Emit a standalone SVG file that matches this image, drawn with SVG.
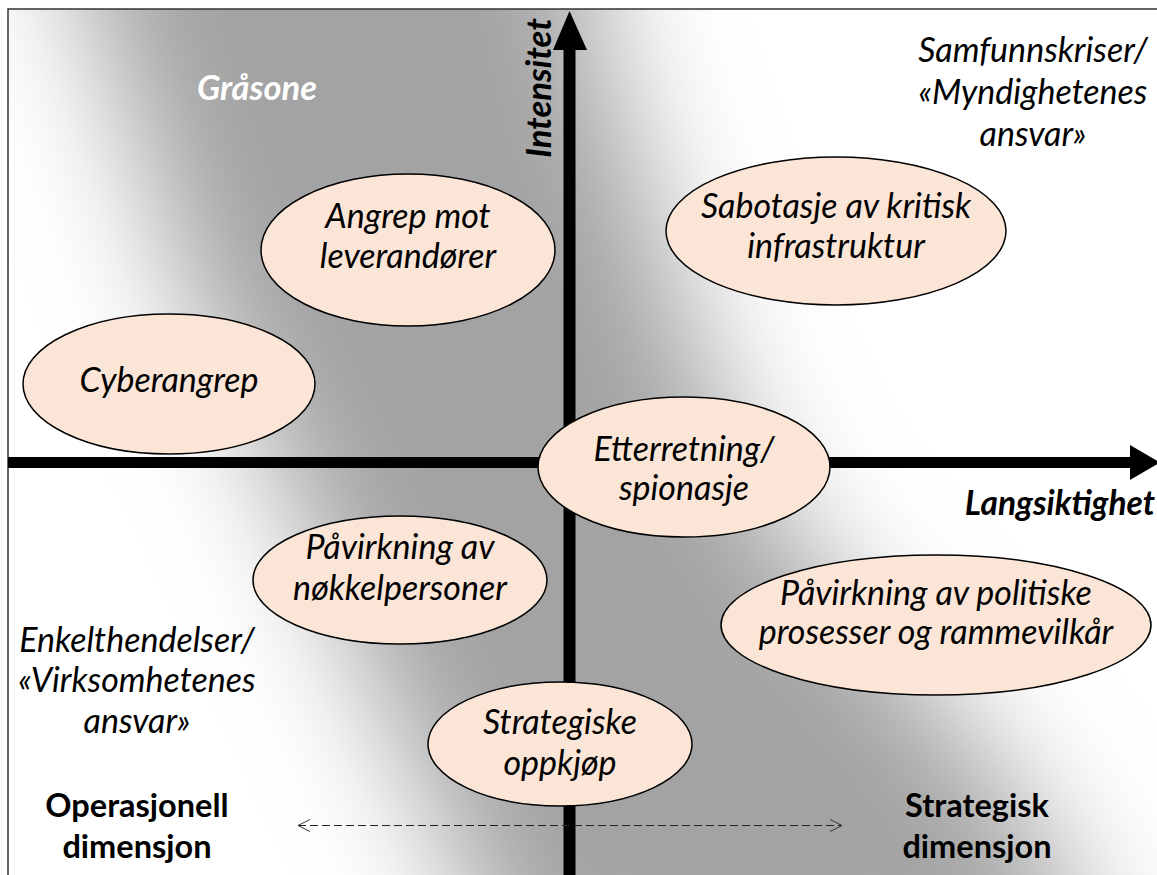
<svg xmlns="http://www.w3.org/2000/svg" width="1157" height="875" viewBox="0 0 1157 875">
<defs>
<filter id="soft" filterUnits="userSpaceOnUse" x="-400" y="-400" width="2000" height="1700">
<feGaussianBlur stdDeviation="62"/>
</filter>
<clipPath id="frameClip">
<rect x="8" y="9" width="1170" height="900"/>
</clipPath>
<marker id="open" viewBox="0 0 14 14" refX="13" refY="7" markerWidth="14" markerHeight="14" markerUnits="userSpaceOnUse" orient="auto-start-reverse">
<path d="M1,1 L13,7 L1,13" fill="none" stroke="#333" stroke-width="1"/>
</marker>
<style>
.node ellipse{fill:#fbe5d6;stroke:#000;stroke-width:1.5}
.t{font-family:Lato,"Open Sans","Liberation Sans",sans-serif;font-style:italic;font-size:34px;fill:#000;text-anchor:middle}
.b{font-family:Lato,"Open Sans","Liberation Sans",sans-serif;font-weight:bold;font-size:32.5px;fill:#000;text-anchor:middle}
.bi{font-family:Lato,"Open Sans","Liberation Sans",sans-serif;font-weight:bold;font-style:italic;font-size:34.5px;fill:#000}
</style>
</defs>
<rect x="0" y="0" width="1157" height="875" fill="#ffffff"/>
<g id="grey-zone" clip-path="url(#frameClip)">
<polygon filter="url(#soft)" fill="#a3a3a3" points="20,-200 85,0 140,150 190,300 270,450 335,600 400,740 465,875 510,1000 1110,1000 1055,850 940,700 800,550 740,450 700,350 675,280 635,150 600,50 570,-200"/>
</g>
<rect id="frame" x="8" y="9" width="1170" height="890" fill="none" stroke="#333" stroke-width="1.5"/>

<g id="labels">
<text class="bi" x="257" y="100" text-anchor="middle" style="fill:#fff">Gråsone</text>
<text class="bi" transform="translate(551,88) rotate(-90)" text-anchor="middle">Intensitet</text>
<text class="bi" x="1155" y="515" text-anchor="end" style="font-size:33.5px">Langsiktighet</text>
<text class="t" x="1033" y="62">Samfunnskriser/</text>
<text class="t" x="1033" y="104">«Myndighetenes</text>
<text class="t" x="1033" y="146">ansvar»</text>
<text class="t" x="137" y="652">Enkelthendelser/</text>
<text class="t" x="137" y="692">«Virksomhetenes</text>
<text class="t" x="137" y="733">ansvar»</text>
<text class="b" x="137" y="817">Operasjonell</text>
<text class="b" x="137" y="858">dimensjon</text>
<text class="b" x="977" y="817">Strategisk</text>
<text class="b" x="977" y="858">dimensjon</text>
</g>

<g id="connectors">
<line id="axis-y" x1="569.5" y1="875" x2="569.5" y2="48" stroke="#000" stroke-width="12"/>
<polygon points="553,50 587,50 569.5,11" fill="#000"/>
<line id="axis-x" x1="8" y1="462.5" x2="1132" y2="462.5" stroke="#000" stroke-width="11"/>
<polygon points="1130,445 1130,480 1160,462.5" fill="#000"/>
<line id="dim" x1="298" y1="825.5" x2="842" y2="825.5" stroke="#222" stroke-width="1" stroke-dasharray="8,4" marker-start="url(#open)" marker-end="url(#open)"/>
</g>

<g id="n-angrep" class="node">
<ellipse cx="408" cy="250" rx="147" ry="76"/>
<text class="t" x="408" y="228">Angrep mot</text>
<text class="t" x="408" y="268">leverandører</text>
</g>
<g id="n-sabotasje" class="node">
<ellipse cx="836" cy="231" rx="170" ry="74"/>
<text class="t" x="836" y="218">Sabotasje av kritisk</text>
<text class="t" x="836" y="258">infrastruktur</text>
</g>
<g id="n-cyber" class="node">
<ellipse cx="169" cy="384" rx="146" ry="70"/>
<text class="t" x="169" y="392">Cyberangrep</text>
</g>
<g id="n-etterretning" class="node">
<ellipse cx="684" cy="467" rx="146" ry="70"/>
<text class="t" x="684" y="461">Etterretning/</text>
<text class="t" x="684" y="500">spionasje</text>
</g>
<g id="n-nokkel" class="node">
<ellipse cx="400" cy="580" rx="147" ry="64"/>
<text class="t" x="400" y="559">Påvirkning av</text>
<text class="t" x="400" y="600">nøkkelpersoner</text>
</g>
<g id="n-politiske" class="node">
<ellipse cx="936" cy="625" rx="215" ry="70"/>
<text class="t" x="936" y="605">Påvirkning av politiske</text>
<text class="t" x="936" y="644">prosesser og rammevilkår</text>
</g>
<g id="n-oppkjop" class="node">
<ellipse cx="560" cy="744" rx="132" ry="62"/>
<text class="t" x="560" y="734">Strategiske</text>
<text class="t" x="560" y="775">oppkjøp</text>
</g>
</svg>
